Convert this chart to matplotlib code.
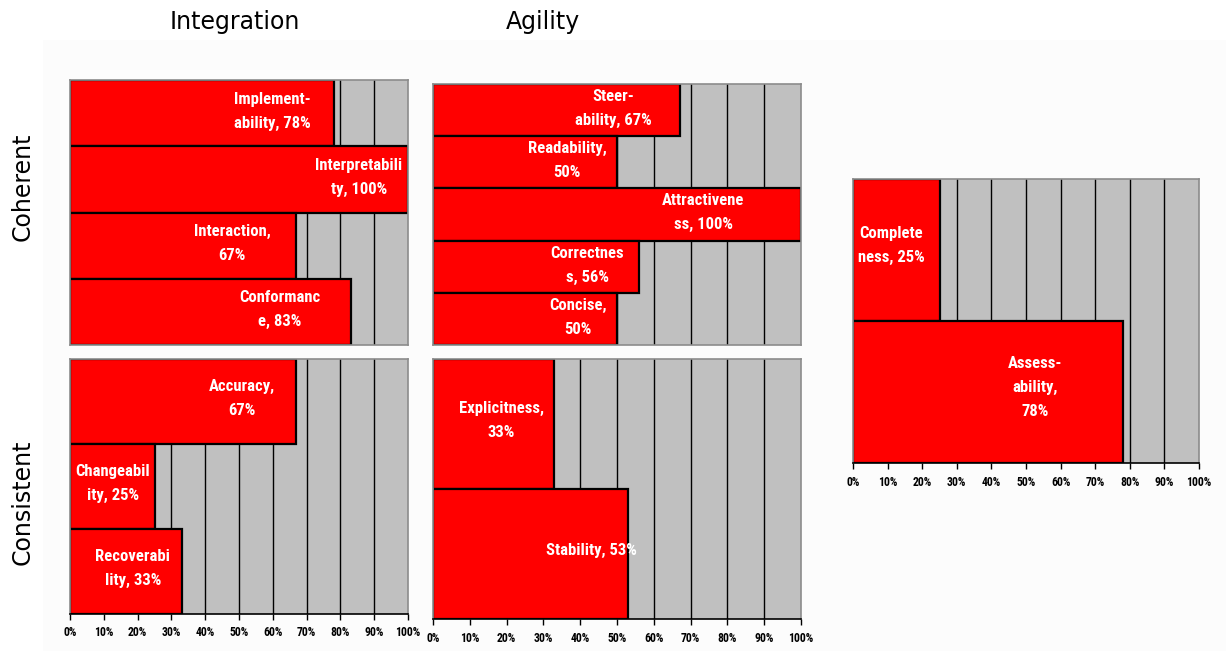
import matplotlib
matplotlib.use("Agg")
import matplotlib.pyplot as plt
from matplotlib.patches import Rectangle
from matplotlib import font_manager as fm

# ---- data ----
coh_int_names = ["Implementability", "Interpretability", "Interaction", "Conformance"]
coh_int_values = [78, 100, 67, 83]
coh_int_labels = ["Implement-\nability, 78%", "Interpretabili\nty, 100%", "Interaction,\n67%", "Conformanc\ne, 83%"]

coh_agi_names = ["Steerability", "Readability", "Attractiveness", "Correctness", "Concise"]
coh_agi_values = [67, 50, 100, 56, 50]
coh_agi_labels = ["Steer-\nability, 67%", "Readability,\n50%", "Attractivene\nss, 100%", "Correctnes\ns, 56%", "Concise,\n50%"]

con_int_names = ["Accuracy", "Changeability", "Recoverability"]
con_int_values = [67, 25, 33]
con_int_labels = ["Accuracy,\n67%", "Changeabil\nity, 25%", "Recoverabi\nlity, 33%"]

con_agi_names = ["Explicitness", "Stability"]
con_agi_values = [33, 53]
con_agi_labels = ["Explicitness,\n33%", "Stability, 53%"]

side_names = ["Completeness", "Assessability"]
side_values = [25, 78]
side_labels = ["Complete\nness, 25%", "Assess-\nability,\n78%"]

tick_values = [0, 10, 20, 30, 40, 50, 60, 70, 80, 90, 100]
tick_labels = ["0%", "10%", "20%", "30%", "40%", "50%", "60%", "70%", "80%", "90%", "100%"]

col_titles = ["Integration", "Agility"]
row_titles = ["Coherent", "Consistent"]

# label centre positions (in % of the axis)
coh_int_lx = [60, 85.5, 48, 62]
coh_agi_lx = [49, 36.5, 73.5, 42, 39.5]
con_int_lx = [51, 12.7, 18.6]
con_agi_lx = [18.5, 43]
side_lx = [11, 52.6]

# pick a narrow font if one exists
names = {f.name for f in fm.fontManager.ttflist}
narrow_candidates = ["Liberation Sans Narrow", "Roboto Condensed", "Open Sans Condensed",
                     "Arial Narrow", "DejaVu Sans Condensed", "Noto Sans Condensed"]
narrow = [n for n in narrow_candidates if n in names]
if narrow:
    LABEL_FONT = [narrow[0], "DejaVu Sans"]
    LABEL_SIZE = 12
    STRETCH = "normal"
    TICK_SIZE = 8.5
else:
    LABEL_FONT = ["DejaVu Sans"]
    LABEL_SIZE = 9
    STRETCH = "normal"
    TICK_SIZE = 6.5

W, H = 1226, 651
fig = plt.figure(figsize=(W / 100, H / 100), dpi=100)
fig.patch.set_facecolor("white")
fig.patches.append(Rectangle((43 / W, 0), 1 - 43 / W, 1 - 40 / H, transform=fig.transFigure,
                             facecolor="#fcfcfc", edgecolor="none", zorder=-10))


def panel(px0, px1, py0, py1, values, labels, lx, show_ticks):
    ax = fig.add_axes([px0 / W, 1 - py1 / H, (px1 - px0) / W, (py1 - py0) / H])
    ax.set_facecolor("#c0c0c0")
    n = len(values)
    ypos = list(range(n))
    ax.set_xlim(0, 100)
    ax.set_ylim(n - 0.5, -0.5)
    for g in tick_values[1:-1]:
        ax.axvline(g, color="black", lw=1.0, zorder=1)
    ax.barh(ypos, values, height=1.0, color="#ff0000", edgecolor="black", linewidth=1.6, zorder=2)
    for y, lab, x in zip(ypos, labels, lx):
        ax.text(x, y - 0.03, lab, ha="center", va="center", multialignment="center",
                color="white", fontsize=LABEL_SIZE, fontweight="bold", family=LABEL_FONT,
                fontstretch=STRETCH, linespacing=1.75, zorder=3)
    for s in ax.spines.values():
        s.set_color("#8c8c8c")
        s.set_linewidth(1.2)
    ax.set_yticks([])
    if show_ticks:
        ax.spines["bottom"].set_color("black")
        ax.set_xticks(tick_values)
        ax.set_xticklabels(tick_labels, fontsize=TICK_SIZE, family=LABEL_FONT,
                           fontstretch=STRETCH, fontweight="bold")
        ax.tick_params(axis="x", length=4, width=1, color="black", pad=5)
    else:
        ax.set_xticks([])
    return ax


panel(70, 408, 80, 345, coh_int_values, coh_int_labels, coh_int_lx, False)
panel(433, 801, 84, 345, coh_agi_values, coh_agi_labels, coh_agi_lx, False)
panel(70, 408, 359, 614, con_int_values, con_int_labels, con_int_lx, True)
panel(433, 801, 359, 619, con_agi_values, con_agi_labels, con_agi_lx, True)
panel(853, 1199, 179, 463, side_values, side_labels, side_lx, True)

TFS = 17
fig.text(235 / W, 1 - 22 / H, col_titles[0], ha="center", va="center", fontsize=TFS, family="DejaVu Sans")
fig.text(543 / W, 1 - 22 / H, col_titles[1], ha="center", va="center", fontsize=TFS, family="DejaVu Sans")
fig.text(23 / W, 1 - 187 / H, row_titles[0], ha="center", va="center", rotation=90, fontsize=TFS, family="DejaVu Sans")
fig.text(23 / W, 1 - 502 / H, row_titles[1], ha="center", va="center", rotation=90, fontsize=TFS, family="DejaVu Sans")

fig.savefig("out.png", dpi=100)
